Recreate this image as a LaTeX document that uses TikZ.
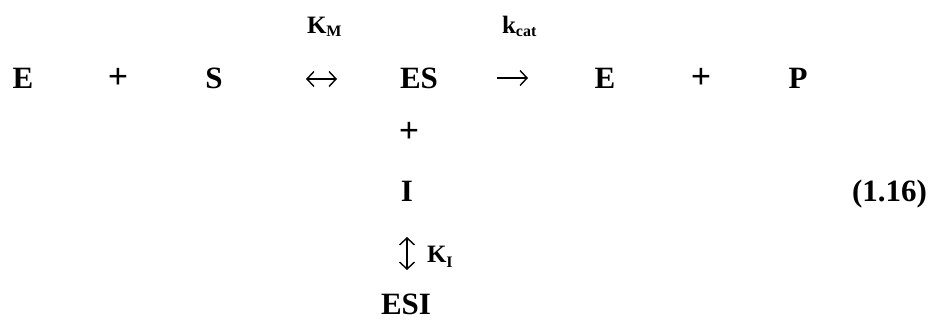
\documentclass[tikz,border=0pt]{standalone}
\usepackage{fontspec}
\setmainfont{Liberation Serif}
\usetikzlibrary{arrows.meta}
\begin{document}
\begin{tikzpicture}[x=1pt,y=1pt,
  sp/.style={inner sep=0pt,outer sep=0pt,anchor=base,font=\fontsize{31}{31}\selectfont\bfseries},
  lbl/.style={inner sep=0pt,outer sep=0pt,anchor=base west,font=\fontsize{25}{25}\selectfont\bfseries},
  rx/.style={line width=1.4pt,arrows={-Straight Barb[length=7pt,width=15pt,line width=1.4pt]}},
  rxboth/.style={line width=1.4pt,arrows={Straight Barb[length=7pt,width=15pt,line width=1.4pt]-Straight Barb[length=7pt,width=15pt,line width=1.4pt]}}]
\useasboundingbox (0,0) rectangle (929,321);
% main row, baseline at image y=89
\node[sp] (e1) at (23,232) {E};
\node[sp,scale=1.15] (p1) at (118,232) {+};
\node[sp] (s) at (214,232) {S};
\coordinate (revL) at (306,242);
\coordinate (revR) at (337,242);
\draw[rxboth] (revL) -- (revR);
\node[sp] (es) at (419,232) {ES};
\coordinate (fwdL) at (497,243);
\coordinate (fwdR) at (528,243);
\draw[rx] (fwdL) -- (fwdR);
\node[sp] (e2) at (605,232) {E};
\node[sp,scale=1.15] (p2) at (701,232) {+};
\node[sp] (pp) at (798,232) {P};
% rate constants
\node[lbl] (km) at (307,287) {K\raisebox{-0.25ex}{\fontsize{16}{16}\selectfont M}};
\node[lbl] (kcat) at (502,287) {k\raisebox{-0.25ex}{\fontsize{16}{16}\selectfont cat}};
% vertical branch
\node[sp,scale=1.15] (p3) at (409,178) {+};
\node[sp] (i) at (407,119) {I};
\coordinate (vT) at (407,84);
\coordinate (vB) at (407,51);
\draw[rxboth] (vT) -- (vB);
\node[lbl] (ki) at (427,58) {K\raisebox{-0.35ex}{\fontsize{16}{16}\selectfont I}};
\node[sp] (esi) at (406,6) {ESI};
% equation number
\node[sp,anchor=base east] (num) at (927,119) {(1.16)};
\end{tikzpicture}
\end{document}
